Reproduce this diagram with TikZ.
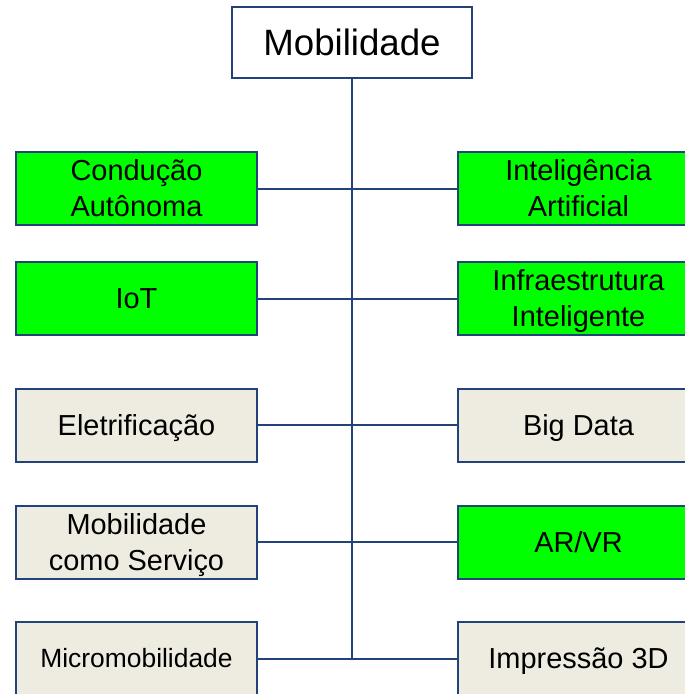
\documentclass[tikz,border=0pt]{standalone}
\usepackage{fontspec}
\setmainfont{Liberation Sans}
\definecolor{boxline}{RGB}{34,66,122}
\definecolor{techgreen}{RGB}{0,255,0}
\definecolor{techbeige}{RGB}{238,236,225}

\tikzset{every picture/.style={line width=1.5pt}}
\tikzset{
  topbox/.style={draw=boxline, fill=white, minimum width=180pt, minimum height=53.25pt, inner sep=0pt, text height=19.7pt, text depth=0pt, font=\fontsize{27.5}{33}\selectfont},
  techbox/.style={draw=boxline, minimum width=180.75pt, minimum height=54.75pt, inner sep=0pt, align=center, font=\fontsize{21.7}{27}\selectfont},
  oneline/.style={text height=15.5pt, text depth=0pt},
  twoline/.style={text height=42.5pt, text depth=0pt},
  greenbox/.style={techbox, fill=techgreen},
  beigebox/.style={techbox, fill=techbeige},
  branch/.style={draw=boxline, line width=1.5pt}
}

\begin{document}
\begin{tikzpicture}[x=0.75pt,y=0.75pt,yscale=-1,xscale=1]
\clip (0,0) rectangle (685,694);
\useasboundingbox (0,0) rectangle (685,694);

%Trunk [id:trunk]
\coordinate (trunkend) at (352,658);

% Text Node
\node [topbox] (mob) at (352,42.5) {Mobilidade};

% Left column
\node [greenbox, twoline] (cond) at (136.5,188.5) {Condução\\Autônoma};
\node [greenbox, oneline] (iot) at (136.5,298.5) {IoT};
\node [beigebox, oneline] (elet) at (136.5,425) {Eletrificação};
\node [beigebox, twoline] (maas) at (136.5,542) {Mobilidade\\como Serviço};
\node [beigebox, oneline, text height=14.2pt, font=\fontsize{19.8}{24}\selectfont] (micro) at (136.5,658.5) {Micromobilidade};

% Right column
\node [greenbox, twoline] (ia) at (578.5,188.5) {Inteligência\\Artificial};
\node [greenbox, twoline] (infra) at (578.5,298.5) {Infraestrutura\\Inteligente};
\node [beigebox, oneline] (big) at (578.5,425) {Big Data};
\node [greenbox, oneline] (arvr) at (578.5,542) {AR/VR};
\node [beigebox, oneline] (imp) at (578.5,658.5) {Impressão 3D};

%Straight Lines
\draw [branch] (mob.south) -- (mob.south |- trunkend);
\foreach \l/\r in {cond/ia, iot/infra, elet/big, maas/arvr, micro/imp}{
  \draw [branch] (\l.east) -- (\r.west);
}

\end{tikzpicture}
\end{document}
